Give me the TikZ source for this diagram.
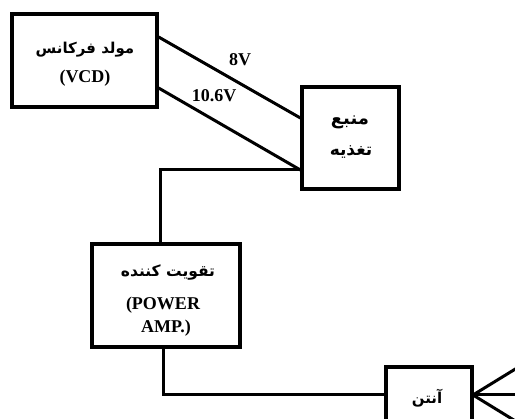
\documentclass[tikz,border=0pt]{standalone}
\usepackage{fontspec}
\setmainfont{Liberation Serif}
\newfontfamily\fa[Script=Arabic]{DejaVu Sans}
\TeXXeTstate=1
\begin{document}
\begin{tikzpicture}[x=1pt,y=-1pt,
  blk/.style={draw,line width=3.2pt,inner sep=0pt,minimum width=#1},
  wire/.style={line width=3pt},
  lat/.style={font=\fontsize{18}{20}\selectfont\bfseries,inner sep=0pt},
  per/.style={font=\fa\fontsize{#1}{18}\selectfont\bfseries,inner sep=0pt},
  per/.default=15]
\clip (0,0) rectangle (515,419);
\fill[white] (0,0) rectangle (515,419);
% boxes
\node[blk=145pt,minimum height=93pt] (vcd) at (84.5,60.5) {};
\node[blk=97pt,minimum height=102pt] (sup) at (350.5,138) {};
\node[blk=148pt,minimum height=103pt] (amp) at (166,295.5) {};
\node[blk=86pt,minimum height=58pt] (ant) at (429,396) {};
% texts
\node[per=15] (t1) at (85,50) {\beginR مولد فرکانس\endR};
\node[lat] (t2) at (85,78) {(VCD)};
\node[per=18] (t3) at (350,122) {\beginR منبع\endR};
\node[per=17] (t4) at (351,152) {\beginR تغذیه\endR};
\node[per=15.5] (t5) at (168,273) {\beginR تقویت کننده\endR};
\node[lat] (t6) at (163,305) {(POWER};
\node[lat] (t7) at (166,328) {AMP.)};
\node[per=15] (t8) at (427,398) {\beginR آنتن\endR};
\node[lat] (l8) at (240,60) {8V};
\node[lat] (l10) at (214,96) {10.6V};
% connectors
\draw[wire] ([yshift=23.5pt]vcd.east) -- ([yshift=20pt]sup.west);
\draw[wire] ([yshift=-27.5pt]vcd.east) -- ([yshift=-32pt]sup.west);
\coordinate (c1) at (160,170);
\draw[wire] ([yshift=-32pt]sup.west) -- (c1) -- (c1 |- amp.north);
\coordinate (c2) at (163,395);
\draw[wire] (c2 |- amp.south) -- (c2) -- (c2 -| ant.west);
\coordinate (av) at (473,395);
\coordinate (a1) at (517,368);
\coordinate (a2) at (517,395);
\coordinate (a3) at (517,422);
\draw[wire] (a1) -- (av) -- (a3);
\draw[wire] (av) -- (a2);
\end{tikzpicture}
\end{document}
